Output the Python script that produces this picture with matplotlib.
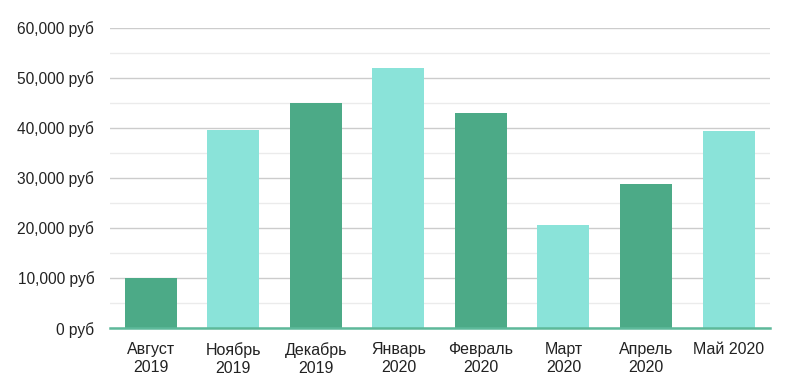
import matplotlib
matplotlib.use("Agg")
import matplotlib.pyplot as plt
from matplotlib.ticker import MultipleLocator, FuncFormatter

months = ["Август\n2019", "Ноябрь\n2019", "Декабрь\n2019", "Январь\n2020",
          "Февраль\n2020", "Март\n2020", "Апрель\n2020", "Май 2020"]
revenue = [10000, 39600, 44900, 52000, 43000, 20700, 28700, 39400]
bar_colors = ["#4caa87", "#8ae3d9", "#4caa87", "#8ae3d9",
              "#4caa87", "#8ae3d9", "#4caa87", "#8ae3d9"]

plt.rcParams['font.family'] = ['Liberation Sans', 'DejaVu Sans']

fig = plt.figure(figsize=(8.12, 3.92), dpi=100)
ax = fig.add_axes([0.135, 0.163, 0.813, 0.766])

x = range(len(months))
ax.bar(x, revenue, width=0.63, color=bar_colors, zorder=3)

ax.set_xlim(-0.5, len(months) - 0.5)
ax.set_ylim(0, 60000)
ax.yaxis.set_major_locator(MultipleLocator(10000))
ax.yaxis.set_minor_locator(MultipleLocator(5000))
ax.yaxis.set_major_formatter(FuncFormatter(lambda v, p: f"{int(v):,} руб"))
ax.grid(axis='y', which='major', color='#cccccc', linewidth=1, zorder=0)
ax.grid(axis='y', which='minor', color='#ebebeb', linewidth=1, zorder=0)

for s in ['top', 'right', 'left']:
    ax.spines[s].set_visible(False)
ax.spines['bottom'].set_color('#5db99a')
ax.spines['bottom'].set_linewidth(1.8)
ax.spines['bottom'].set_zorder(4)

ax.set_xticks(list(x))
ax.set_xticklabels(months, fontsize=11.5, color='#222222', linespacing=1.25)
ax.tick_params(axis='x', length=0, pad=10)
ax.tick_params(axis='y', which='both', length=0, pad=11, labelsize=11.2, labelcolor='#222222')

fig.savefig("out.png", dpi=100)
